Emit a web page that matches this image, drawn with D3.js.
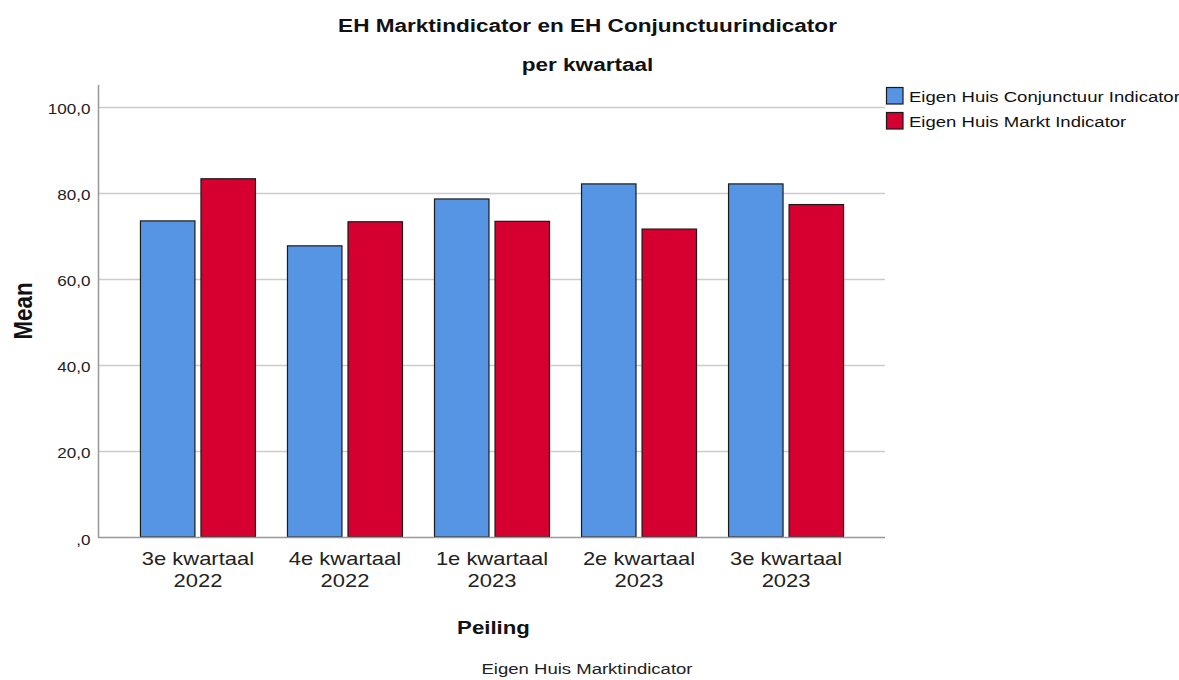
<!DOCTYPE html>
<html><head><meta charset="utf-8">
<script src="https://cdn.jsdelivr.net/npm/d3@7"></script>
<style>body{margin:0;background:#fff;} svg{font-family:"Liberation Sans",Arial,sans-serif;}</style>
</head><body>
<svg id="c" width="1179" height="680"></svg>
<script>
const categories = [["3e kwartaal","2022"],["4e kwartaal","2022"],["1e kwartaal","2023"],["2e kwartaal","2023"],["3e kwartaal","2023"]];
const seriesNames = ["Eigen Huis Conjunctuur Indicator","Eigen Huis Markt Indicator"];
const conjunctuur = [73.5, 67.7, 78.6, 82.1, 82.1];
const markt = [83.3, 73.3, 73.4, 71.6, 77.3];
const yTicks = [0,20,40,60,80,100];
const colors = ["#5595e3","#d5002f"];

const SX = 1.22; // horizontal stretch of the text in the reference
const svg = d3.select("#c");
const L=99, R=885, T=85, B=537;
const y = d3.scaleLinear().domain([0,105.1]).range([B,T]);
const x0 = d3.scaleBand().domain(d3.range(categories.length)).range([L,R]).paddingInner(0).paddingOuter(0.173);
const x1 = d3.scaleBand().domain(seriesNames).range([-57.5,57.5]).paddingInner(0.1);

function txt(parent, x, yy, str, size, opts={}) {
  const sx = opts.sx || SX;
  const t = parent.append("text")
    .attr("transform", `translate(${x},${yy}) scale(${sx},1)` + (opts.rotate ? ` rotate(${opts.rotate})` : ""))
    .attr("text-anchor", opts.anchor || "middle")
    .attr("font-size", size)
    .attr("font-weight", opts.bold ? "bold" : "normal")
    .attr("fill", opts.fill || "#111")
    .text(str);
  return t;
}

// gridlines
svg.append("g").selectAll("line").data(yTicks.filter(d=>d>0)).join("line")
  .attr("x1",L).attr("x2",R).attr("y1",d=>y(d)+0.5).attr("y2",d=>y(d)+0.5)
  .attr("stroke","#cccccc").attr("stroke-width",1.5);

// y axis
const yAxis = d3.axisLeft(y).tickValues(yTicks).tickSize(0).tickPadding(7)
  .tickFormat(d=> d===0 ? ",0" : d3.format(".1f")(d).replace(".",","));
const ga = svg.append("g").attr("transform",`translate(${L},0)`).call(yAxis);
ga.select(".domain").remove();
ga.selectAll("text").attr("font-size",14).attr("fill","#222").attr("dy","0.5em")
  .attr("font-family","Liberation Sans, Arial, sans-serif").attr("transform",`scale(${SX},1)`);
svg.append("line").attr("x1",L-0.5).attr("x2",L-0.5).attr("y1",T).attr("y2",B+1).attr("stroke","#999").attr("stroke-width",1.5);

// bars
const data = categories.map((c,i)=>({i, vals:[conjunctuur[i], markt[i]]}));
const g = svg.append("g");
data.forEach(d=>{
  const cx = x0(d.i)+x0.bandwidth()/2;
  seriesNames.forEach((s,j)=>{
    g.append("rect")
      .attr("x",cx+x1(s)).attr("width",x1.bandwidth())
      .attr("y",y(d.vals[j])).attr("height",B-y(d.vals[j]))
      .attr("fill",colors[j]).attr("stroke","#1a1a1a").attr("stroke-width",1.2);
  });
});

// baseline
svg.append("line").attr("x1",L).attr("x2",R).attr("y1",B+0.5).attr("y2",B+0.5).attr("stroke","#999").attr("stroke-width",1.5);

// x tick labels
const xl = svg.append("g");
categories.forEach((c,i)=>{
  const cx = x0(i)+x0.bandwidth()/2;
  txt(xl, cx, 565, c[0], 18, {fill:"#222"});
  txt(xl, cx, 587, c[1], 18, {fill:"#222"});
});

// titles
txt(svg, 587.5, 32, "EH Marktindicator en EH Conjunctuurindicator", 18.5, {bold:true});
txt(svg, 587.5, 71, "per kwartaal", 18.5, {bold:true});
txt(svg, 31.5, 311, "Mean", 22.3, {bold:true, rotate:-90, sx:1.15});
txt(svg, 493.5, 634, "Peiling", 18.2, {bold:true});
txt(svg, 587, 674, "Eigen Huis Marktindicator", 15.2, {fill:"#222"});

// legend
const lg = svg.append("g");
seriesNames.forEach((s,j)=>{
  const yy = 87.5 + j*25;
  lg.append("rect").attr("x",886.5).attr("y",yy).attr("width",16.5).attr("height",16.5).attr("fill",colors[j]).attr("stroke","#1a1a1a").attr("stroke-width",1.2);
  txt(lg, 909, yy+14.5, s, 15.2, {anchor:"start"});
});
</script>
</body></html>
